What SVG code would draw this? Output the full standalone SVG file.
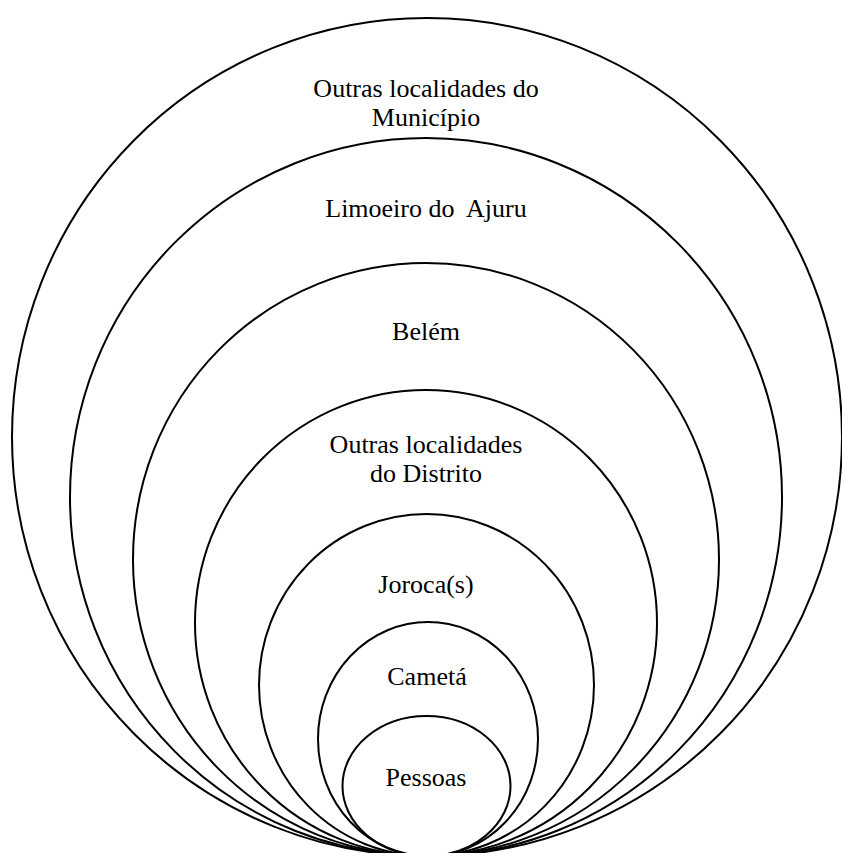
<svg xmlns="http://www.w3.org/2000/svg" width="842" height="853" viewBox="0 0 842 853">
<style>
.ring{fill:none;stroke:#000;stroke-width:2}
.lbl{font-family:"Liberation Serif","Times New Roman",serif;font-size:26px;fill:#000;text-anchor:middle}
</style>
<rect x="0" y="0" width="842" height="853" fill="#fff"/>
<g id="ring-municipio">
<ellipse class="ring" cx="427" cy="437" rx="415" ry="419"/>
<text class="lbl" x="426" y="97">Outras localidades do</text>
<text class="lbl" x="426" y="126">Município</text>
</g>
<g id="ring-limoeiro">
<ellipse class="ring" cx="426" cy="497" rx="356" ry="359"/>
<text class="lbl" x="426" y="217" xml:space="preserve">Limoeiro do  Ajuru</text>
</g>
<g id="ring-belem">
<ellipse class="ring" cx="426" cy="559.5" rx="293" ry="296.5"/>
<text class="lbl" x="426" y="340">Belém</text>
</g>
<g id="ring-distrito">
<ellipse class="ring" cx="426" cy="623" rx="231" ry="233"/>
<text class="lbl" x="426" y="453">Outras localidades</text>
<text class="lbl" x="426" y="482">do Distrito</text>
</g>
<g id="ring-joroca">
<ellipse class="ring" cx="426.5" cy="685" rx="167.5" ry="171"/>
<text class="lbl" x="426" y="593">Joroca(s)</text>
</g>
<g id="ring-cameta">
<ellipse class="ring" cx="428" cy="739" rx="110" ry="117"/>
<text class="lbl" x="427" y="685">Cametá</text>
</g>
<g id="ring-pessoas">
<ellipse class="ring" cx="426.5" cy="786" rx="84" ry="70"/>
<text class="lbl" x="426" y="786">Pessoas</text>
</g>
</svg>
